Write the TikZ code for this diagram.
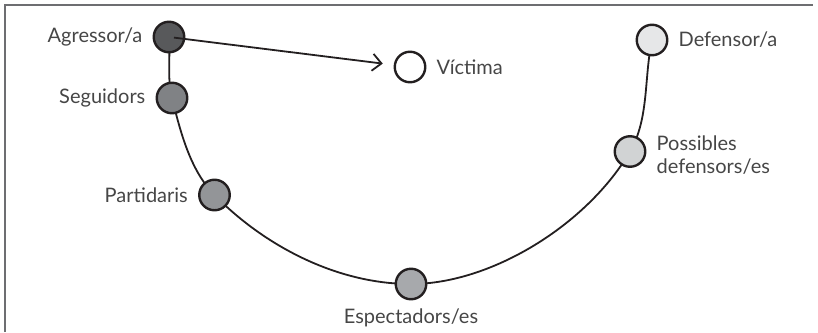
\documentclass[tikz,border=0pt]{standalone}
\usepackage{fontspec}
\setmainfont{Lato}
\usetikzlibrary{arrows.meta,backgrounds}
\definecolor{txt}{HTML}{464646}
\definecolor{framec}{HTML}{6D6E71}
\definecolor{strokec}{HTML}{231F20}
\definecolor{cA}{HTML}{58595B}
\definecolor{cS}{HTML}{808285}
\definecolor{cP}{HTML}{939598}
\definecolor{cE}{HTML}{A7A9AC}
\definecolor{cPo}{HTML}{D1D3D4}
\definecolor{cD}{HTML}{E6E7E8}
\begin{document}
\begin{tikzpicture}[x=1pt,y=-1pt,
  role/.style={circle, draw=strokec, line width=2.4pt, minimum size=30.5pt, inner sep=0pt},
  lbl/.style={text=txt, font=\fontsize{20}{23}\selectfont, inner sep=0pt},
  curveline/.style={draw=strokec, line width=1.8pt},
  frameline/.style={draw=framec, line width=2pt},
  every label/.style={lbl}]
\useasboundingbox (0,0) rectangle (818,332);
\draw[frameline] (5,332) -- (5,5) -- (813,5);
\node[role, fill=cA, label={[label distance=10pt]left:Agressor/a}] (agr) at (169,37) {};
\node[role, fill=cS, label={[label distance=10pt]left:Seguidors}] (seg) at (172,98) {};
\node[role, fill=cP, label={[label distance=10pt]left:Partidaris}] (par) at (214.5,195) {};
\node[role, fill=cE, label={[label distance=8pt]below:Espectadors/es}] (esp) at (411,284) {};
\node[role, fill=cPo, label={[label distance=10pt, align=left, yshift=-4pt]right:Possibles\\defensors/es}] (pos) at (630,151.5) {};
\node[role, fill=cD, label={[label distance=10pt]right:Defensor/a}] (def) at (652,40) {};
\node[role, fill=white, label={[label distance=10pt]right:Víctima}] (vic) at (410,67) {};
\begin{scope}[on background layer]
\draw[curveline] (agr.center) .. controls +(1.5,20) and +(-5,-19.5) .. (seg.center)
  .. controls +(8.5,34) and +(-24.5,-25) .. (par.center)
  .. controls +(49,50) and +(-75,0) .. (esp.center)
  .. controls +(80,0) and +(-43,73.3) .. (pos.center)
  .. controls +(19.3,-32.8) and +(-8.1,37.1) .. (def.center);
\end{scope}
\draw[draw=strokec, line width=1.8pt, shorten <=5pt, shorten >=11pt, -{Straight Barb[length=9pt,width=17pt,line width=1.8pt]}] (agr.center) -- (vic);
\end{tikzpicture}
\end{document}
